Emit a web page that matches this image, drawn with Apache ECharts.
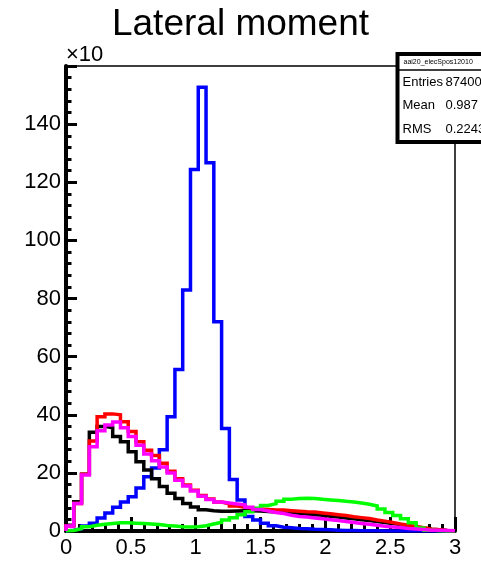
<!DOCTYPE html>
<html>
<head>
<meta charset="utf-8">
<script src="https://cdn.jsdelivr.net/npm/echarts@6/dist/echarts.min.js"></script>
<style>
  html, body { margin: 0; padding: 0; background: #fff; }
  #chart { width: 481px; height: 563px; }
</style>
</head>
<body>
<div id="chart"></div>
<script>
// Histogram range: 50 equal bins between xMin and xMax
const xMin = 0;
const xMax = 3;

// Bin contents (units of 10^3 entries), one value per bin
const blueHist = [0.3, 0.8, 1.7, 2.7, 4.5, 6.2, 8.2, 10.0, 11.8, 14.8,
  18.7, 21.7, 28, 39.3, 55.6, 82.9, 124.4, 152.7, 126.7, 72,
  35.3, 17.7, 10.7, 5.0, 3.8, 2.7, 1.8, 1.3, 1.1, 0.9,
  0.8, 0.6, 0.5, 0.4, 0.3, 0.2, 0.15, 0.1, 0.1, 0.05,
  0, 0, 0, 0, 0, 0, 0, 0, 0, 0];
const blackHist = [2, 10.1, 19.5, 34, 36, 35.5, 32.5, 30.7, 27.3, 23.8,
  21, 18, 15.3, 13, 11.2, 9.5, 8.3, 7.3, 7.0, 6.8,
  6.8, 6.9, 7.0, 7.0, 6.9, 6.7, 6.5, 6.4, 6.3, 6.1,
  5.8, 5.6, 5.4, 5.1, 4.8, 4.5, 4.2, 3.9, 3.6, 3.3,
  2.9, 2.6, 2.2, 1.8, 1.4, 1.0, 0.6, 0.4, 0.2, 0.1];
const redHist = [1.7, 9.5, 19.5, 31, 39.3, 40.3, 40.0, 37.6, 34.2, 30.7,
  27.8, 26, 23.3, 20.6, 18, 15.8, 14, 12.2, 11, 10,
  9.4, 8.6, 8.2, 7.8, 7.6, 7.4, 7.2, 7.2, 7.0, 6.8,
  6.6, 6.5, 6.2, 5.9, 5.6, 5.3, 4.9, 4.6, 4.3, 3.8,
  3.4, 2.9, 2.4, 2.0, 1.5, 1.1, 0.6, 0.4, 0.2, 0.1];
const greenHist = [0.2, 0.8, 1.5, 2.0, 2.3, 2.6, 2.8, 2.8, 2.7, 2.6,
  2.4, 2.2, 1.9, 1.7, 1.5, 1.4, 1.5, 1.8, 2.4, 3.0,
  3.8, 4.6, 5.6, 6.6, 7.8, 8.8, 9.4, 10.2, 10.9, 11.2,
  11.3, 11.2, 10.9, 10.7, 10.5, 10.2, 10.0, 9.6, 9.2, 8.6,
  7.6, 6.4, 5.3, 4.2, 2.8, 1.0, 0.3, 0.1, 0, 0];
const magentaHist = [1.7, 9.5, 19.3, 29, 34.5, 36.5, 37.5, 35.5, 32.5, 29.5,
  26.5, 24.2, 22, 20, 17.5, 15.5, 13.8, 12, 10.8, 10,
  9.6, 9.3, 9.0, 8.2, 7.4, 6.9, 6.4, 6.0, 5.4, 5.0,
  4.8, 4.5, 4.2, 3.9, 3.6, 3.3, 2.9, 2.6, 2.3, 2.0,
  1.6, 1.4, 1.2, 0.9, 0.7, 0.5, 0.3, 0.3, 0.2, 0.1];

// Statistics box contents
const statsTitle = 'aai20_elecSpos12010';
const statsRows = [['Entries', '87400'], ['Mean', '0.987'], ['RMS', '0.2243']];

const FONT = "'Liberation Sans', Arial, Helvetica, sans-serif";

// Turn bin contents into outline points for a stepped (histogram) line
function histOutline(values) {
  const w = (xMax - xMin) / values.length;
  const pts = [[xMin, 0]];
  values.forEach((v, i) => pts.push([xMin + i * w, v]));
  pts.push([xMax, values[values.length - 1]]);
  pts.push([xMax, 0]);
  return pts;
}

function histSeries(values, color) {
  return {
    type: 'line',
    step: 'end',
    data: histOutline(values),
    symbol: 'none',
    lineStyle: { color: color, width: 3.5, join: 'miter', cap: 'butt' },
    animation: false,
    silent: true
  };
}

const chart = echarts.init(document.getElementById('chart'), null, { renderer: 'canvas' });

const gridL = 66, gridT = 66, gridR = 26, gridB = 32;

chart.setOption({
  backgroundColor: '#fff',
  title: {
    text: 'Lateral moment',
    left: 'center',
    top: 1,
    textStyle: { fontFamily: FONT, fontSize: 37, fontWeight: 'normal', color: '#000' }
  },
  grid: {
    left: gridL, top: gridT, right: gridR, bottom: gridB,
    show: true, borderColor: '#000', borderWidth: 1.5, backgroundColor: 'transparent'
  },
  xAxis: {
    type: 'value', min: xMin, max: xMax, interval: 0.5,
    axisLine: { show: true, onZero: false, lineStyle: { color: '#000', width: 4 } },
    axisTick: { show: true, inside: true, length: 14, lineStyle: { color: '#000', width: 3 } },
    minorTick: { show: true, splitNumber: 5, length: 7, lineStyle: { color: '#000', width: 3 } },
    splitLine: { show: false },
    axisLabel: { fontFamily: FONT, fontSize: 22, color: '#000', margin: 6 }
  },
  yAxis: {
    type: 'value', min: 0, max: 160, interval: 20,
    axisLine: { show: true, lineStyle: { color: '#000', width: 4 } },
    axisTick: { show: true, inside: true, length: 11, lineStyle: { color: '#000', width: 3 } },
    minorTick: { show: true, splitNumber: 5, length: 5.5, lineStyle: { color: '#000', width: 3 } },
    splitLine: { show: false },
    axisLabel: {
      fontFamily: FONT, fontSize: 22, color: '#000', margin: 5,
      formatter: v => (v >= 160 ? '' : String(v))
    }
  },
  series: [
    histSeries(blueHist, '#0000ff'),
    histSeries(blackHist, '#000000'),
    histSeries(redHist, '#ff0000'),
    histSeries(greenHist, '#00ff00'),
    histSeries(magentaHist, '#ff00ff')
  ],
  graphic: [
    {
      type: 'text', left: 66, top: 44, z: 100,
      style: { text: '×10', font: `22px ${FONT}`, fill: '#000' }
    },
    {
      type: 'group', left: 395, top: 52, z: 100,
      children: [
        { type: 'rect', shape: { x: 0, y: 0, width: 100, height: 88 },
          style: { fill: '#fff', stroke: '#000', lineWidth: 4 } },
        { type: 'line', shape: { x1: 0, y1: 16, x2: 100, y2: 16 },
          style: { stroke: '#000', lineWidth: 1.5 } },
        { type: 'text', x: 6, y: 8,
          style: { text: statsTitle, font: `7px ${FONT}`, fill: '#000', verticalAlign: 'middle' } },
        ...statsRows.flatMap((row, i) => [
          { type: 'text', x: 5, y: 28 + i * 23.5,
            style: { text: row[0], font: `13px ${FONT}`, fill: '#000', verticalAlign: 'middle' } },
          { type: 'text', x: 48, y: 28 + i * 23.5,
            style: { text: row[1], font: `13px ${FONT}`, fill: '#000', verticalAlign: 'middle' } }
        ])
      ]
    }
  ]
});
</script>
</body>
</html>
